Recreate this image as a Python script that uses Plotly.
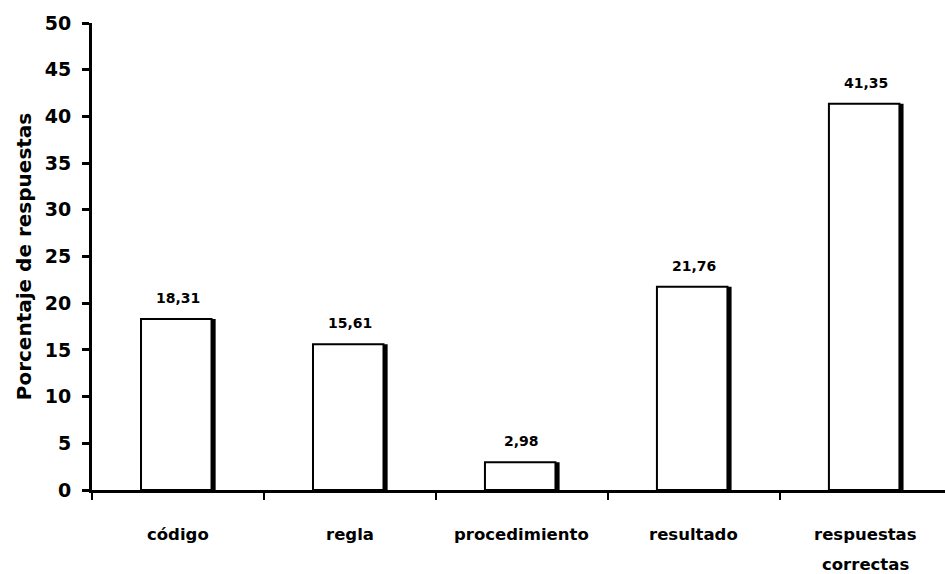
import plotly.graph_objects as go

categorias = ["código", "regla", "procedimiento", "resultado", "respuestas<br>correctas"]
porcentajes = [18.31, 15.61, 2.98, 21.76, 41.35]
etiquetas = ["18,31", "15,61", "2,98", "21,76", "41,35"]
y_ticks = [0, 5, 10, 15, 20, 25, 30, 35, 40, 45, 50]

FONT = "DejaVu Sans"
ancho = 0.41
desplaz = -0.215

fig = go.Figure()

# sombra negra desplazada a la derecha (borde derecho grueso)
fig.add_trace(go.Bar(
    x=categorias, y=porcentajes, width=ancho, offset=desplaz + 0.024,
    marker=dict(color="black", line=dict(width=0)),
    hoverinfo="skip", showlegend=False,
))

# barras blancas con contorno negro
fig.add_trace(go.Bar(
    x=categorias, y=porcentajes, width=ancho, offset=desplaz,
    marker=dict(color="white", line=dict(color="black", width=2)),
    showlegend=False,
))

# valores sobre cada barra
for cat, val, txt in zip(categorias, porcentajes, etiquetas):
    fig.add_annotation(
        x=cat, y=val, text=txt, showarrow=False,
        xanchor="center", yanchor="bottom", yshift=11,
        font=dict(family=FONT, size=14, color="black", weight="bold"),
    )

# nombres de categoría bajo el eje, con interlineado amplio
for cat in categorias:
    for i, linea in enumerate(cat.split("<br>")):
        fig.add_annotation(
            x=cat, y=0, yref="y", text=linea, showarrow=False,
            xanchor="center", yanchor="middle", yshift=-44 - 30 * i,
            font=dict(family=FONT, size=16.5, color="black", weight="bold"),
        )

fig.update_layout(
    width=945, height=574,
    margin=dict(l=92, r=0, t=23, b=84),
    paper_bgcolor="white", plot_bgcolor="white",
    barmode="overlay",
    font=dict(family=FONT, color="black"),
    xaxis=dict(
        range=[-0.5, 4.46],
        showline=True, linecolor="black", linewidth=3,
        ticks="outside", tickson="boundaries", ticklen=7, tickwidth=2, tickcolor="black",
        showticklabels=False,
        showgrid=False, zeroline=False,
    ),
    yaxis=dict(
        range=[0, 50], tickvals=y_ticks,
        showline=True, linecolor="black", linewidth=3,
        ticks="outside", ticklen=7, tickwidth=3, tickcolor="black",
        tickfont=dict(family=FONT, size=19, color="black", weight="bold"),
        ticklabelstandoff=7,
        showgrid=False, zeroline=False,
        title=dict(text="Porcentaje de respuestas", standoff=8,
                   font=dict(family=FONT, size=20, color="black", weight="bold")),
    ),
)

fig.write_html("out.html")
